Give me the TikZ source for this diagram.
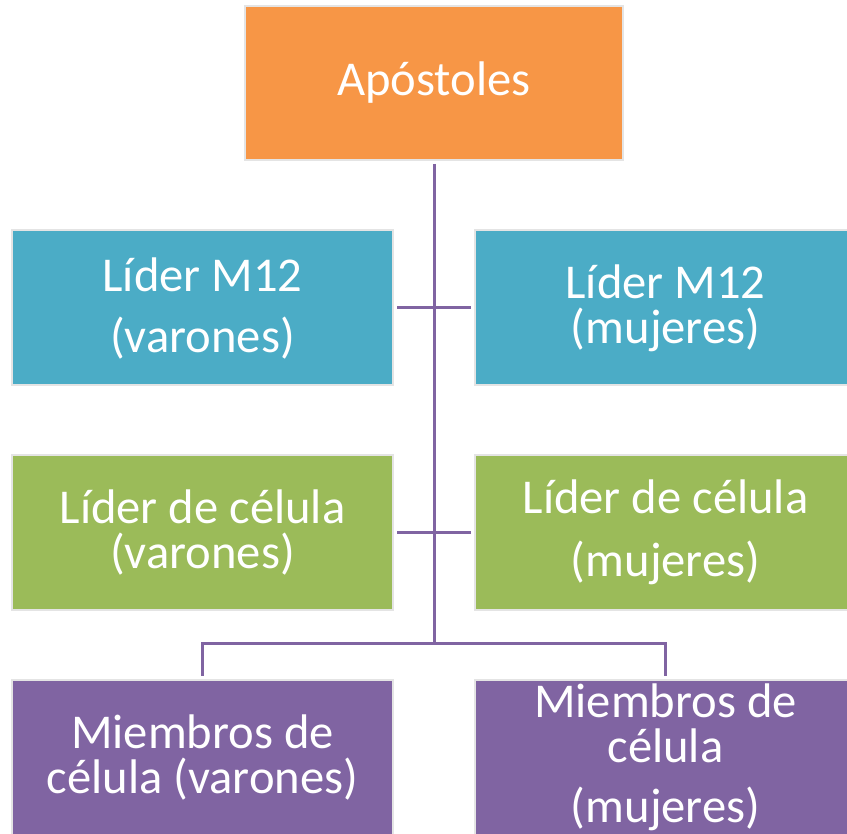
\documentclass[tikz,border=0pt]{standalone}
\usepackage{fontspec}
\setmainfont{Carlito}
\usepackage{xcolor}
\usetikzlibrary{positioning}
\definecolor{naranja}{HTML}{F79646}
\definecolor{azul}{HTML}{4BACC6}
\definecolor{verde}{HTML}{9BBB59}
\definecolor{morado}{HTML}{8064A2}
\definecolor{borde}{HTML}{E4E4E4}

\begin{document}
\begin{tikzpicture}[x=0.5pt,y=-0.5pt,
  caja/.style={draw=borde,line width=1pt,text=white,minimum width=190.5pt,
    minimum height=77.5pt,align=center,inner sep=0pt,
    font=\fontsize{24.3}{22.5}\selectfont},
  linea/.style={draw=morado,line width=1.5pt}]
\useasboundingbox (0,0) rectangle (847,834);
% cabeza
\node[caja,fill=naranja,minimum width=189pt,minimum height=77pt] (apos) at (434,83) {Apóstoles};
% lideres M12
\node[caja,fill=azul] (m12v) at (202.5,308) {Líder M12\\[8pt](varones)};
\node[caja,fill=azul] (m12m) at (665.5,308) {Líder M12\\(mujeres)};
% lideres de celula
\node[caja,fill=verde] (celv) at (202.5,532.5) {Líder de célula\\(varones)};
\node[caja,fill=verde] (celm) at (665.5,532.5) {Líder de célula\\[9pt](mujeres)};
% miembros
\node[caja,fill=morado] (miev) at (202.5,757.5) {Miembros de\\célula (varones)};
\node[caja,fill=morado] (miem) at (665.5,757.5) {Miembros de\\célula\\[7.5pt](mujeres)};
\coordinate (nudo) at (434,643);
      \draw[linea,shorten <=1.5pt] (apos) -- (nudo);
      \draw[linea,shorten <=1.5pt,shorten >=1.5pt] (m12v) -- (m12m);
      \draw[linea,shorten <=1.5pt,shorten >=1.5pt] (celv) -- (celm);
      \draw[linea,shorten >=1.5pt] (nudo) -| (miev);
      \draw[linea,shorten >=1.5pt] (nudo) -| (miem);
\end{tikzpicture}
\end{document}
